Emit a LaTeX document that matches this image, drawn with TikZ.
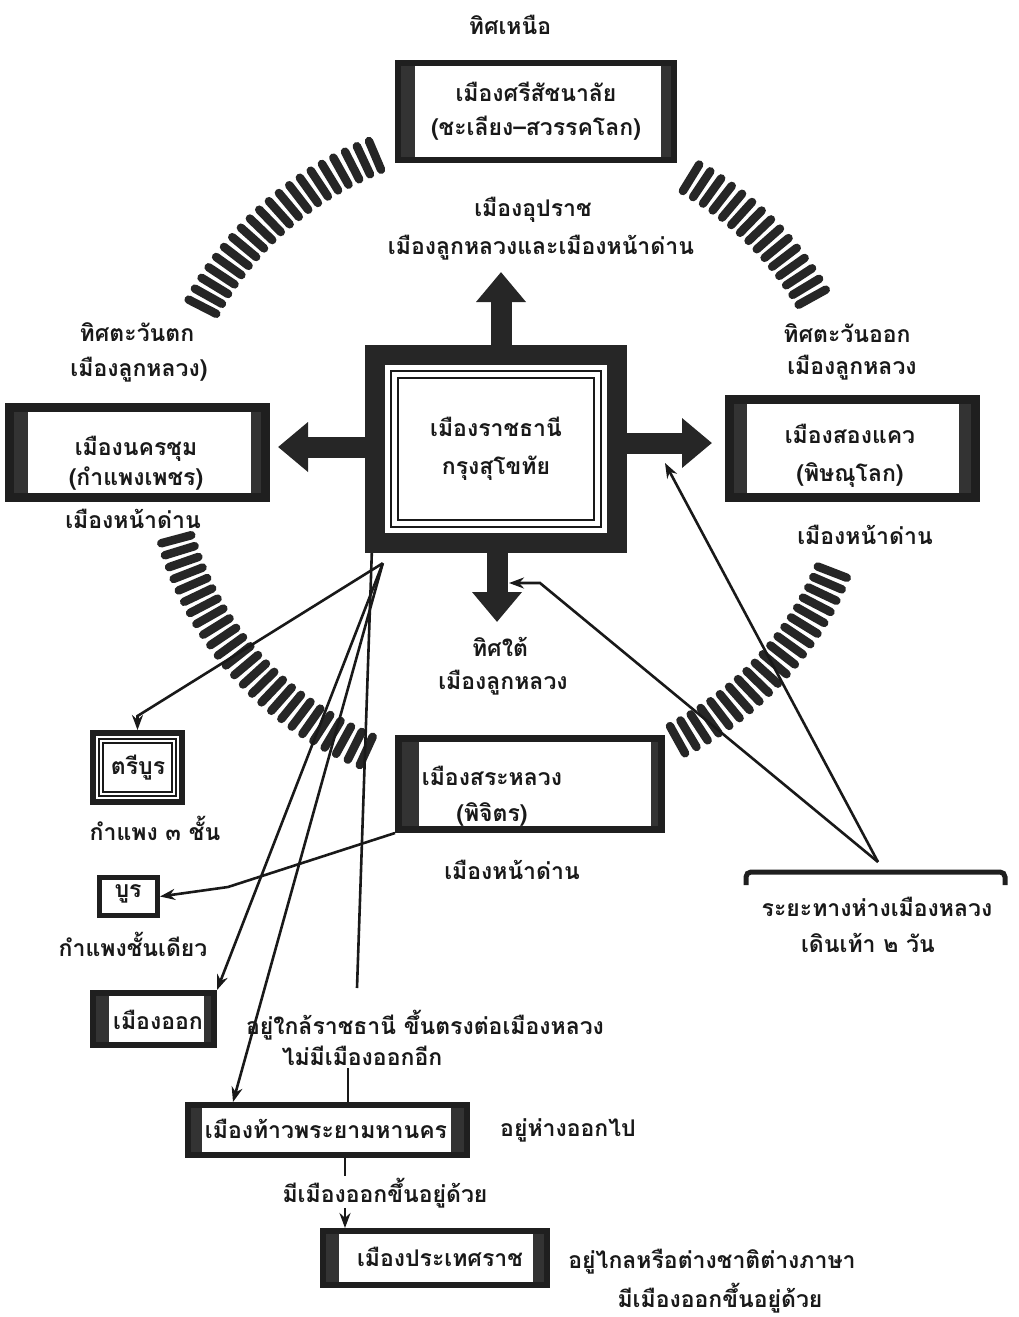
\documentclass[tikz,border=0pt]{standalone}
\usepackage{fontspec}
\newfontfamily\thai[Script=Thai]{Loma}
\usetikzlibrary{arrows.meta}
\begin{document}
\begin{tikzpicture}[x=1pt,y=-1pt,
  txt/.style={font=\thai\bfseries\fontsize{23}{30}\selectfont, inner sep=0pt, align=center, text=black!90},
  tbox/.style={draw=black!88, fill=white, line width=#1, inner sep=0pt},
  bars/.style 2 args={path picture={
     \fill[black!80] (path picture bounding box.north west) rectangle ([xshift=#1]path picture bounding box.south west);
     \fill[black!80] (path picture bounding box.north east) rectangle ([xshift=-#2]path picture bounding box.south east);}},
  tick/.style={line width=8.5pt, line cap=round, draw=black!85},
  bigarrow/.style={line width=21pt, draw=black!85, -{Triangle[width=48pt,length=30pt]}},
  link/.style={line width=2.6pt, draw=black!90, -{Stealth[length=15pt,width=11pt]}},
  plain/.style={line width=2.6pt, draw=black!90}
]
\useasboundingbox (0,0) rectangle (1018,1317);

% dashed circle arcs
\foreach \a in {113,115.1,...,155} {\draw[tick] ({510+330*cos(\a)},{455-310*sin(\a)}) -- ({510+361*cos(\a)},{455-341*sin(\a)});}
\foreach \a in {29,31.1,...,59} {\draw[tick] ({510+330*cos(\a)},{455-310*sin(\a)}) -- ({510+361*cos(\a)},{455-341*sin(\a)});}
\foreach \a in {195,197.1,...,246} {\draw[tick] ({510+330*cos(\a)},{455-310*sin(\a)}) -- ({510+361*cos(\a)},{455-341*sin(\a)});}
\foreach \a in {299,301.1,...,341} {\draw[tick] ({510+330*cos(\a)},{455-310*sin(\a)}) -- ({510+361*cos(\a)},{455-341*sin(\a)});}

% north
\node[txt] (tN) at (510,25) {ทิศเหนือ};
\node[txt, tbox=6pt, bars={17pt}{13pt}, minimum width=276pt, minimum height=97pt] (nbox) at (536,111) {เมืองศรีสัชนาลัย\\[4pt](ชะเลียง–สวรรคโลก)};
\node[txt] (tUp1) at (533,210) {เมืองอุปราช};
\node[txt] (tUp2) at (541,248) {เมืองลูกหลวงและเมืองหน้าด่าน};

% capital
\node[txt, fill=black!85, minimum width=262pt, minimum height=208pt,
  path picture={
   \fill[white] ([shift={(20pt,-20pt)}]path picture bounding box.north west) rectangle ([shift={(-20pt,20pt)}]path picture bounding box.south east);
   \draw[black!90, line width=2.2pt] ([shift={(26pt,-26pt)}]path picture bounding box.north west) rectangle ([shift={(-26pt,26pt)}]path picture bounding box.south east);
   \draw[black!90, line width=2.6pt] ([shift={(33pt,-33pt)}]path picture bounding box.north west) rectangle ([shift={(-33pt,33pt)}]path picture bounding box.south east);}
  ] (cap) at (496,449) {เมืองราชธานี\\[8pt]กรุงสุโขทัย};

\coordinate (upTip) at (501,272);
\coordinate (wTip) at (278,447);
\coordinate (eTip) at (712,443);
\coordinate (sTip) at (497,622);
\draw[bigarrow] (cap.north -| upTip) -- (upTip);
\draw[bigarrow] (cap.west |- wTip) -- (wTip);
\draw[bigarrow] (cap.east |- eTip) -- (eTip);
\draw[bigarrow] (cap.south -| sTip) -- (sTip);

\node[txt] (tS1) at (500,647) {ทิศใต้};
\node[txt] (tS2) at (503,683) {เมืองลูกหลวง};

% west
\node[txt] (tW1) at (137,332) {ทิศตะวันตก};
\node[txt] (tW2) at (139,370) {เมืองลูกหลวง)};
\node[tbox=9pt, bars={18pt}{15pt}, minimum width=256pt, minimum height=90pt] (wbox) at (137.5,452.5) {};
\node[txt] (wtxt) at (136,463) {เมืองนครชุม\\(กำแพงเพชร)};
\node[txt] (tW3) at (133,519) {เมืองหน้าด่าน};

% east
\node[txt] (tE1) at (847,333) {ทิศตะวันออก};
\node[txt] (tE2) at (852,368) {เมืองลูกหลวง};
\node[tbox=9pt, bars={17pt}{17pt}, minimum width=246pt, minimum height=98pt] (ebox) at (852.5,448.5) {};
\node[txt] (etxt) at (850,456) {เมืองสองแคว\\[8pt](พิษณุโลก)};
\node[txt] (tE3) at (865,535) {เมืองหน้าด่าน};

% tribun
\node[tbox=6pt, minimum width=89pt, minimum height=69pt,
  path picture={
   \draw[black!90, line width=1.4pt] ([shift={(6pt,-6pt)}]path picture bounding box.north west) rectangle ([shift={(-6pt,6pt)}]path picture bounding box.south east);
   \draw[black!90, line width=1.4pt] ([shift={(10pt,-10pt)}]path picture bounding box.north west) rectangle ([shift={(-10pt,10pt)}]path picture bounding box.south east);}
  ] (tri) at (137.5,767.5) {};
\node[txt] (tritxt) at (138,768) {ตรีบูร};
\node[txt] (tricap) at (155,828) {กำแพง ๓ ชั้น};

% buri
\node[tbox=5pt, minimum width=58pt, minimum height=38pt] (buri) at (128.5,896.5) {};
\node[txt] (buritxt) at (128,894) {บูร};
\node[txt] (buricap) at (133,944) {กำแพงชั้นเดียว};

% sa luang
\node[tbox=7pt, bars={20pt}{11pt}, minimum width=263pt, minimum height=91pt] (sar) at (530,784) {};
\node[txt] (sartxt) at (492,796) {เมืองสระหลวง\\[6pt](พิจิตร)};
\node[txt] (sarcap) at (512,870) {เมืองหน้าด่าน};

% distance
\coordinate (dL) at (746,872);
\coordinate (dR) at (1005,872);
\coordinate (dTop) at (878,862);
\draw[line width=5pt, draw=black!88, rounded corners=5pt] ([yshift=-13pt]dL) -- (dL) -- (dR) -- ([yshift=-13pt]dR);
\node[txt] (dist1) at (877,907) {ระยะทางห่างเมืองหลวง};
\node[txt] (dist2) at (868,943) {เดินเท้า ๒ วัน};

% ork
\node[tbox=6pt, bars={16pt}{10pt}, minimum width=121pt, minimum height=52pt] (ork) at (153.5,1019) {};
\node[txt] (orktxt) at (158,1020) {เมืองออก};
\node[txt] (orkn1) at (425,1025) {อยู่ใกล้ราชธานี ขึ้นตรงต่อเมืองหลวง};
\node[txt] (orkn2) at (362,1056) {ไม่มีเมืองออกอีก};

% prya
\node[tbox=6pt, bars={14pt}{16pt}, minimum width=279pt, minimum height=50pt] (prya) at (327.5,1130) {};
\node[txt] (pryatxt) at (326,1129) {เมืองท้าวพระยามหานคร};
\node[txt] (pryan1) at (568,1130) {อยู่ห่างออกไป};
\node[txt] (pryan2) at (385,1193) {มีเมืองออกขึ้นอยู่ด้วย};

% pratet
\node[tbox=6pt, bars={16pt}{14pt}, minimum width=224pt, minimum height=54pt] (prat) at (435,1258) {};
\node[txt] (prattxt) at (440,1257) {เมืองประเทศราช};
\node[txt] (pratn1) at (712,1262) {อยู่ไกลหรือต่างชาติต่างภาษา};
\node[txt] (pratn2) at (720,1298) {มีเมืองออกขึ้นอยู่ด้วย};

% connectors from capital
\draw[link] ([shift={(18pt,-10pt)}]cap.south west) -- ([yshift=14pt]tri.north) -- (tri.north);
\draw[link] ([shift={(18pt,-10pt)}]cap.south west) -- (ork.north east);
\draw[link] ([shift={(18pt,-10pt)}]cap.south west) -- ([xshift=48pt]prya.north west);
\coordinate (vEnd) at (357,988);
\draw[plain] ([xshift=7pt]cap.south west) -- (vEnd);
\coordinate (bend) at (228,887);
\draw[link] (sar.south west) -- (bend) -- (buri.east);
\coordinate (t1) at (348,1068);
\draw[plain] (t1) -- (t1 |- prya.north);
\coordinate (t2) at (345,1176);
\draw[plain] (prya.south -| t2) -- (t2);
\coordinate (t3) at (345,1208);
\draw[link] (t3) -- (t3 |- prat.north);

% connectors from distance note
\coordinate (eHit) at (665,463);
\coordinate (sBend) at (540,583);
\coordinate (sHit) at (509,583);
\draw[link] (dTop) -- (eHit);
\draw[link] (dTop) -- (sBend) -- (sHit);
\end{tikzpicture}
\end{document}
